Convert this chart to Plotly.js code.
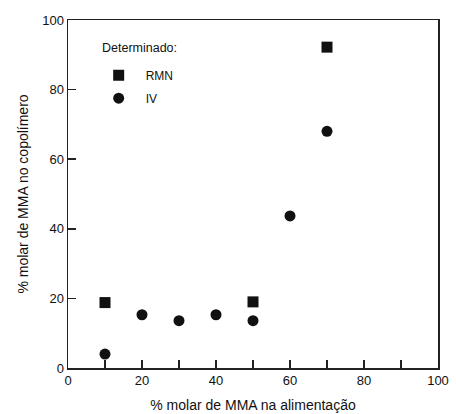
<!DOCTYPE html>
<html><head><meta charset="utf-8">
<script src="https://cdn.plot.ly/plotly-3.0.1.min.js"></script>
<style>html,body{margin:0;padding:0;background:#fff}#plot{width:456px;height:414px}</style>
</head><body><div id="plot"></div>
<script>
var rmnX = [10, 50, 70];
var rmnY = [18.8, 19.0, 92.2];
var ivX = [10, 20, 30, 40, 50, 60, 70];
var ivY = [4.0, 15.3, 13.6, 15.3, 13.6, 43.7, 68.0];
var xTicks = [0, 10, 20, 30, 40, 50, 60, 70, 80, 90, 100];
var xTickText = ['0', '', '20', '', '40', '', '60', '', '80', '', '100'];
var yTicks = [0, 20, 40, 60, 80, 100];

var font = {family: 'Liberation Sans, Arial, sans-serif', color: '#111'};
var traces = [
  {x: rmnX, y: rmnY, mode: 'markers', type: 'scatter', name: 'RMN', legendgroup: 'a',
   marker: {symbol: 'square', size: 11, color: '#111'}},
  {x: ivX, y: ivY, mode: 'markers', type: 'scatter', name: 'IV', legendgroup: 'b',
   marker: {symbol: 'circle', size: 11, color: '#111'}}
];
var axisCommon = {
  showgrid: false, zeroline: false, showline: true, linecolor: '#222', linewidth: 1.5,
  mirror: true, ticks: 'inside', ticklen: 8, tickwidth: 1.5, tickcolor: '#222',
  tickfont: {family: font.family, size: 13, color: '#111'}
};
var layout = {
  width: 456, height: 414,
  margin: {l: 68, r: 18, t: 20, b: 46},
  paper_bgcolor: '#fff', plot_bgcolor: '#fff',
  showlegend: true,
  legend: {x: 0.064, y: 0.883, xanchor: 'left', yanchor: 'top', itemwidth: 44,
    font: {family: font.family, size: 12, color: '#111'},
    bgcolor: 'rgba(0,0,0,0)', tracegroupgap: 4},
  annotations: [{text: 'Determinado:', xref: 'paper', yref: 'paper', x: 0.086, y: 0.9195,
    xanchor: 'left', yanchor: 'middle', showarrow: false,
    font: {family: font.family, size: 12.5, color: '#111'}}],
  xaxis: Object.assign({}, axisCommon, {range: [0, 100], tickvals: xTicks, ticktext: xTickText,
    title: {text: '% molar de MMA na alimentação', font: {family: font.family, size: 14, color: '#111'}, standoff: 13}}),
  yaxis: Object.assign({}, axisCommon, {range: [0, 100], tickvals: yTicks,
    title: {text: '% molar de MMA no copolímero', font: {family: font.family, size: 14, color: '#111'}, standoff: 10}})
};
Plotly.newPlot('plot', traces, layout, {displayModeBar: false, staticPlot: true});
</script></body></html>
